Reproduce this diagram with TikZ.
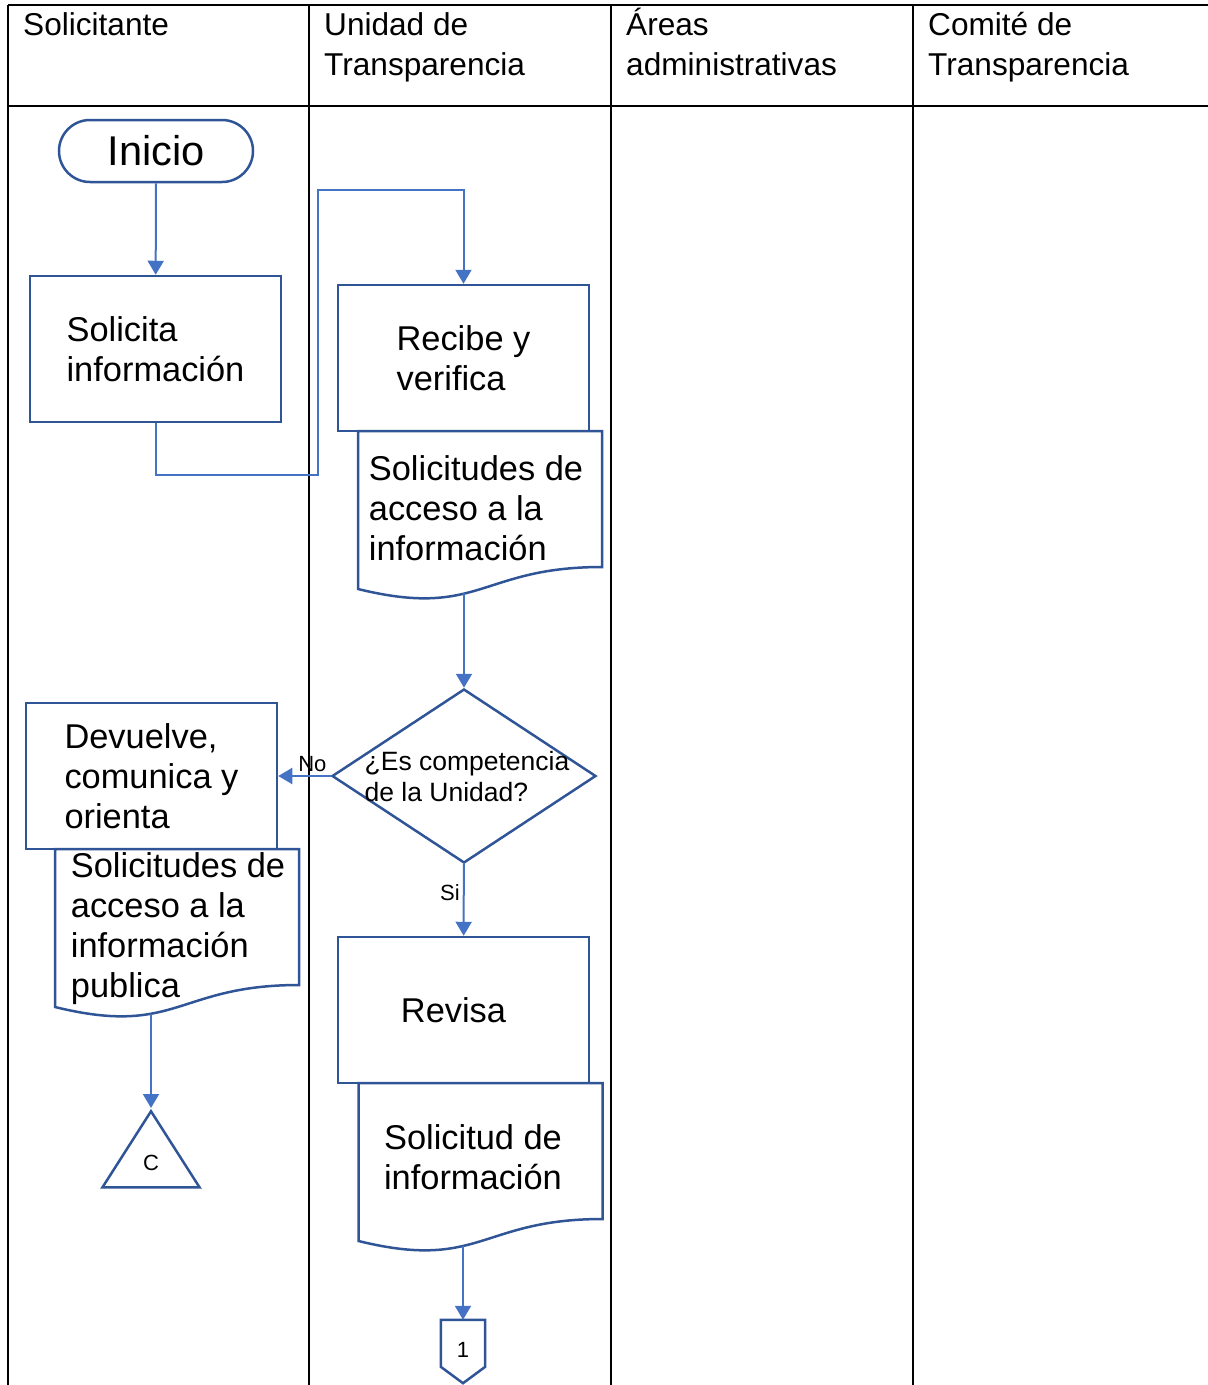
\documentclass[tikz,border=0pt]{standalone}
\usepackage{fontspec}
\setmainfont{Liberation Sans}
\usetikzlibrary{shapes.geometric,arrows.meta,calc}
\definecolor{shpblue}{HTML}{2F5597}
\definecolor{lnblue}{HTML}{4472C4}
% outline of a document shape round a text node, shifted by (#2,#3)
\newcommand\docshape[3]{%
  \begin{scope}[shift={($(#1)+(#2,#3)$)}]
    \draw[shp] (-122,-77) -- (122,-77) -- (122,59)
      .. controls (0,59) and (0,111) .. (-122,81) -- cycle;
  \end{scope}}
\tikzset{
  shp/.style={draw=shpblue, line width=2.5pt},
  box/.style={shp, rectangle, minimum width=251pt, minimum height=146pt, align=left, font=\fontsize{34.4}{40}\selectfont},
  doc/.style={align=left, font=\fontsize{34.4}{40}\selectfont},
  conn/.style={draw=lnblue, line width=2pt, -{Triangle[length=14pt,width=16pt]}},
  lane/.style={line width=2pt},
  hdr/.style={anchor=north west, align=left, inner sep=0pt, font=\fontsize{31.6}{40}\selectfont},
  lbl/.style={font=\fontsize{22}{26}\selectfont, inner sep=3pt}
}
\begin{document}
\begin{tikzpicture}[x=1pt, y=-1pt]
  \useasboundingbox (0,0) rectangle (1208,1385);
  % table
  \draw[lane] (8,5) -- (1208,5) (8,106) -- (1208,106);
  \foreach \x in {8,309,611,913} \draw[lane] (\x,5) -- (\x,1385);
  \node[hdr] (hsol) at (23,3) {\rule{0pt}{32pt}Solicitante};
  \node[hdr] (hut) at (324,3) {\rule{0pt}{32pt}Unidad de\\Transparencia};
  \node[hdr] (hadm) at (626,3) {\rule{0pt}{32pt}Áreas\\administrativas};
  \node[hdr] (hcom) at (928,3) {\rule{0pt}{32pt}Comité de\\Transparencia};

  % shapes
  \node[shp, rectangle, rounded corners=31pt, minimum width=194pt, minimum height=62pt, font=\fontsize{41.6}{48}\selectfont] (inicio) at (156,151) {Inicio};
  \node[box] (solic) at (155.5,349) {Solicita\\información};
  \node[box] (recibe) at (463.5,358) {Recibe y\\verifica};
  \node[doc] (doc1) at (476,508) {Solicitudes de\\acceso a la\\información};
  \node[shp, diamond, minimum width=264pt, minimum height=174pt, inner sep=0pt] (dec) at (464,776) {};
  \node[align=left, font=\fontsize{26.5}{31}\selectfont] (dectxt) at ($(dec)+(3,1)$) {¿Es competencia\\de la Unidad?};
  \node[box] (devol) at (151.5,776) {Devuelve,\\comunica y\\orienta};
  \node[doc] (doc2) at (178,929) {Solicitudes de\\acceso a la\\información\\publica};
  \node[shp, isosceles triangle, shape border rotate=90, isosceles triangle stretches, minimum width=97pt, minimum height=76pt, inner sep=0pt, anchor=apex, font=\fontsize{22}{26}\selectfont] (tric) at (151,1108) {C};
  \node[box] (revisa) at (463.5,1010) {Revisa\hspace{20pt}};
  \node[doc] (doc3) at (473,1157) {Solicitud de\\información};
  \node[minimum width=44pt, minimum height=60pt, inner sep=0pt, font=\fontsize{22}{26}\selectfont] (off1) at (463,1350) {1};
  \draw[shp] (off1.north west) -- (off1.north east) -- ++(0,47) -- ($(off1.south)+(0,3)$) -- ($(off1.north west)+(0,47)$) -- cycle;
  \docshape{doc1}{4}{0}
  \docshape{doc2}{-1}{-3}
  \docshape{doc3}{7.5}{3}
  \coordinate (doc1out) at ($(doc1)+(-12,85)$);
  \coordinate (doc2out) at ($(doc2)+(-27,85)$);
  \coordinate (doc3out) at ($(doc3)+(-10,88.5)$);
  \coordinate (r1) at (318,475);
  \coordinate (r2) at (318,190);

  % connectors
  \draw[conn] (inicio) -- (solic);
  \draw[conn] (solic.south) |- (r1) -- (r2) -| (recibe.north);
  \draw[conn] (doc1out) -- (dec);
  \draw[conn] (dec) -- node[lbl, pos=.35, above] {No} (devol);
  \draw[conn] (dec) -- node[lbl, pos=.4, left] {Si} (revisa);
  \draw[conn] (doc2out) -- (tric.apex);
  \draw[conn] (doc3out) -- (off1);
\end{tikzpicture}
\end{document}
